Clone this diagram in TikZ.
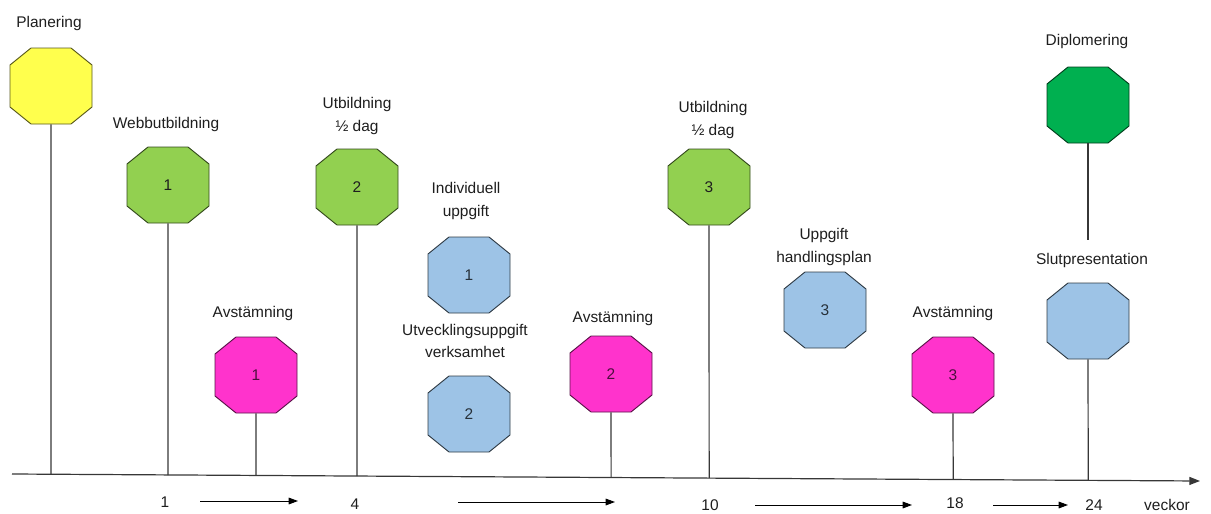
\documentclass[tikz,border=0pt]{standalone}
\usepackage{fontspec}
\setmainfont{Liberation Sans}
\usetikzlibrary{arrows.meta,calc}
\definecolor{cyel}{RGB}{255,255,77}
\definecolor{cgrn}{RGB}{146,208,80}
\definecolor{cmag}{RGB}{255,51,204}
\definecolor{cblu}{RGB}{157,195,230}
\definecolor{cdgr}{RGB}{0,176,80}
\definecolor{cline}{RGB}{55,55,55}
\definecolor{ctxt}{RGB}{30,30,30}
% #1 colour style, #2 name, #3 position, #4 text
\newcommand{\octagonnode}[4]{%
  \path[#1] (#3) ++(-20,-38) -- ++(40,0) -- ++(21,17) -- ++(0,42) -- ++(-21,17)
    -- ++(-40,0) -- ++(-21,-17) -- ++(0,-42) -- cycle;
  \node[octbox,#1,draw=none,fill=none] (#2) at (#3) {#4};
}
\begin{document}
\begin{tikzpicture}[x=0.75pt,y=-0.75pt,
  every node/.style={font=\fontsize{11.6}{17}\selectfont, text=ctxt},
  octbox/.style={rectangle, minimum width=61.5pt, minimum height=57pt, inner sep=0pt},
  octyel/.style={fill=cyel, draw=cyel!35!black, line width=0.7pt},
  octgrn/.style={fill=cgrn, draw=cgrn!35!black, line width=0.7pt},
  octmag/.style={fill=cmag, draw=cmag!35!black, text=cmag!30!black, line width=0.7pt},
  octblu/.style={fill=cblu, draw=cblu!30!black, text=cblu!25!black, line width=0.7pt},
  octdgr/.style={fill=cdgr, draw=cdgr!35!black, line width=0.7pt},
  lbl/.style={align=center, inner sep=0pt},
  stem/.style={draw=cline, line width=0.9pt},
  axisline/.style={draw=cline, line width=0.9pt, -{Triangle[length=8pt,width=6pt]}},
  weekarrow/.style={draw=black, line width=0.7pt, -{Triangle[length=7pt,width=5pt]}}
]
\useasboundingbox (0,0) rectangle (1211,514);

% axis
\coordinate (ax0) at (12,474);
\coordinate (ax1) at (1200,481);
\draw[axisline] (ax0) -- (ax1);

% octagons
\octagonnode{octyel}{pl}{51,86}{}
\octagonnode{octgrn}{g1}{168,185}{1}
\octagonnode{octmag}{m1}{256,375}{1}
\octagonnode{octgrn}{g2}{357,187}{2}
\octagonnode{octblu}{b1}{469,275}{1}
\octagonnode{octblu}{b2}{469,414}{2}
\octagonnode{octmag}{m2}{611,374}{2}
\octagonnode{octgrn}{g3}{709,187}{3}
\octagonnode{octblu}{b3}{825,310}{3}
\octagonnode{octmag}{m3}{953,375}{3}
\octagonnode{octdgr}{dg}{1088,105}{}
\octagonnode{octblu}{b4}{1088,321}{}

% labels
\node[lbl] (lpl) at (49,24) {Planering};
\node[lbl] (lg1) at (166,124) {Webbutbildning};
\node[lbl] (lm1) at (253,313) {Avstämning};
\node[lbl] (lg2) at (357,116) {Utbildning\\½ dag};
\node[lbl] (lb1) at (466,201) {Individuell\\uppgift};
\node[lbl] (lb2) at (465,341) {Utvecklingsuppgift\\verksamhet};
\node[lbl] (lm2) at (613,318) {Avstämning};
\node[lbl] (lg3) at (713,120) {Utbildning\\½ dag};
\node[lbl] (lb3) at (824,247) {Uppgift\\handlingsplan};
\node[lbl] (lm3) at (953,313) {Avstämning};
\node[lbl] (ldg) at (1087,42) {Diplomering};
\node[lbl] (lb4) at (1092,260) {Slutpresentation};

% stems
\draw[stem] (pl.south) -- (intersection of pl.south--pl.center and ax0--ax1);
\draw[stem] (g1.south) -- (intersection of g1.south--g1.center and ax0--ax1);
\draw[stem] (m1.south) -- (intersection of m1.south--m1.center and ax0--ax1);
\draw[stem] (g2.south) -- (intersection of g2.south--g2.center and ax0--ax1);
\draw[stem] (m2.south) -- (intersection of m2.south--m2.center and ax0--ax1);
\draw[stem] (g3.south) -- (intersection of g3.south--g3.center and ax0--ax1);
\draw[stem] (m3.south) -- (intersection of m3.south--m3.center and ax0--ax1);
\draw[stem] (b4.south) -- (intersection of b4.south--b4.center and ax0--ax1);
\coordinate (dgend) at (1088,240);
\draw[stem] (dg.south) -- (dgend);

% week numbers
\node[lbl] (w1) at (165,502) {1};
\node[lbl] (w4) at (355,504) {4};
\node[lbl] (w10) at (710,505) {10};
\node[lbl] (w18) at (955,503) {18};
\node[lbl] (w24) at (1094,505) {24};
\node[lbl] (wv) at (1167,505) {veckor};

% week arrows
\coordinate (a1s) at (200,501); \coordinate (a1e) at (298,501);
\coordinate (a2s) at (458,502); \coordinate (a2e) at (615,502);
\coordinate (a3s) at (755,505); \coordinate (a3e) at (912,505);
\coordinate (a4s) at (993,505); \coordinate (a4e) at (1068,505);
\draw[weekarrow] (a1s) -- (a1e);
\draw[weekarrow] (a2s) -- (a2e);
\draw[weekarrow] (a3s) -- (a3e);
\draw[weekarrow] (a4s) -- (a4e);
\end{tikzpicture}
\end{document}
